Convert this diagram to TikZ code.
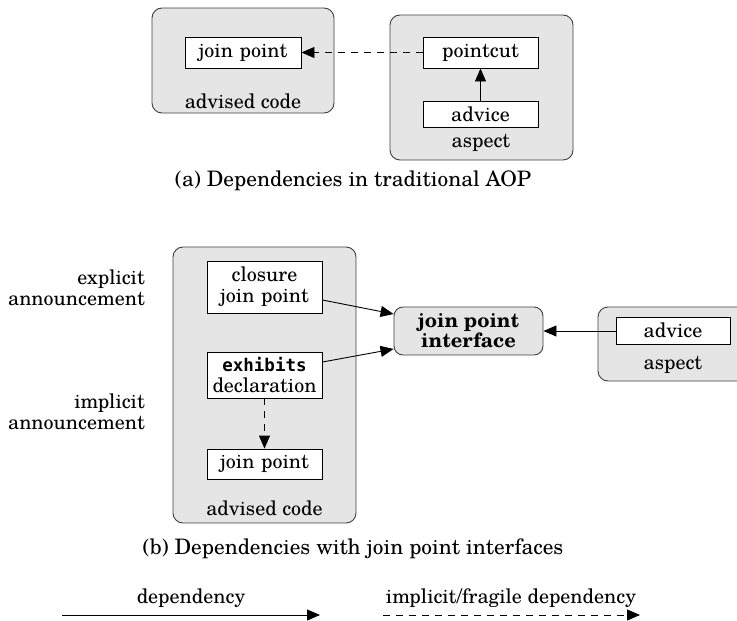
\documentclass[tikz,border=0pt]{standalone}
\usepackage{fontspec}
\setmainfont{texgyreschola}[Extension=.otf, UprightFont=*-regular, BoldFont=*-bold, ItalicFont=*-italic, BoldItalicFont=*-bolditalic]
\newfontfamily\monob{DejaVu Sans Mono}
\usetikzlibrary{arrows.meta,calc}
\definecolor{boxgray}{gray}{0.90}
\definecolor{edgegray}{gray}{0.25}
\tikzset{
  outerbox/.style={draw=edgegray, fill=boxgray, rounded corners=10pt, line width=0.9pt, minimum width=#1, inner sep=0pt},
  innerbox/.style={draw=black, fill=white, line width=0.9pt, inner sep=0pt, align=center, text width=#1, minimum width=#1},
  lbl/.style={inner sep=0pt, align=center},
  caption/.style={lbl, font=\fontsize{21.3}{22}\selectfont},
  dep/.style={line width=0.9pt, -{Triangle[length=13pt,width=11pt]}},
  fragile/.style={dep, dash pattern=on 7pt off 6pt},
}
\begin{document}
\begin{tikzpicture}[x=1pt,y=-1pt, font=\fontsize{20}{21}\selectfont]
\useasboundingbox (0,0) rectangle (737,621);
% ---------- (a) ----------
\node[outerbox=182pt, minimum height=105pt] (adva) at (243,60.5) {};
\node[innerbox=116pt, minimum height=31pt] (jpa) at (243,52.5) {join point};
\node[lbl] (adtxa) at (243,101) {advised code};
\node[outerbox=183pt, minimum height=145pt] (aspa) at (481.5,87.5) {};
\node[innerbox=115pt, minimum height=31pt] (pca) at (480.5,52.5) {pointcut};
\node[innerbox=115pt, minimum height=26pt] (ava) at (480.5,114) {advice};
\node[lbl] (asptxa) at (481,143) {aspect};
\node[caption] (capa) at (353,181) {(a) Dependencies in traditional AOP};
\draw[fragile] (pca.west) -- (jpa.east);
\draw[dep] (ava.north) -- (pca.south);
% ---------- (b) ----------
\node[outerbox=183pt, minimum height=276pt] (advb) at (264.5,385) {};
\node[innerbox=115pt, minimum height=52pt] (clos) at (264.5,287) {closure\\join point};
\node[innerbox=115pt, minimum height=46pt] (exh) at (264.5,375) {{\monob\bfseries\fontsize{17.5}{18}\selectfont exhibits}\\declaration};
\node[innerbox=115pt, minimum height=30pt] (jpb) at (264.5,464) {join point};
\node[lbl] (adtxb) at (264.5,508) {advised code};
\node[lbl, align=right, anchor=east] (expl) at (145,288) {explicit\\announcement};
\node[lbl, align=right, anchor=east] (impl) at (145,412) {implicit\\announcement};
\node[outerbox=149pt, minimum height=48pt, rounded corners=9pt, align=center, font=\fontsize{20}{20}\selectfont\bfseries] (jpi) at (468.5,331) {join point\\interface};
\node[outerbox=150pt, minimum height=74pt] (aspb) at (673,344) {};
\node[innerbox=114pt, minimum height=27pt] (avb) at (673,330.5) {advice};
\node[lbl] (asptxb) at (673,365) {aspect};
\node[caption] (capb) at (353,549) {(b) Dependencies with join point interfaces};
\draw[dep] ([yshift=-13pt]clos.east) -- ([yshift=17pt]jpi.west);
\draw[dep] ([yshift=13pt]exh.east) -- ([yshift=-18pt]jpi.west);
\draw[fragile] (exh.south) -- (jpb.north);
\draw[dep] (avb.west |- jpi.east) -- (jpi.east);
% ---------- legend ----------
\coordinate (l1s) at (62,615);
\coordinate (l1e) at (320,615);
\coordinate (l2s) at (383,615);
\coordinate (l2e) at (640,615);
\node[lbl] (ldep) at (191,598) {dependency};
\node[lbl] (lfrag) at (511,598) {implicit/fragile dependency};
\draw[dep] (l1s) -- (l1e);
\draw[fragile] (l2s) -- (l2e);
\end{tikzpicture}
\end{document}
